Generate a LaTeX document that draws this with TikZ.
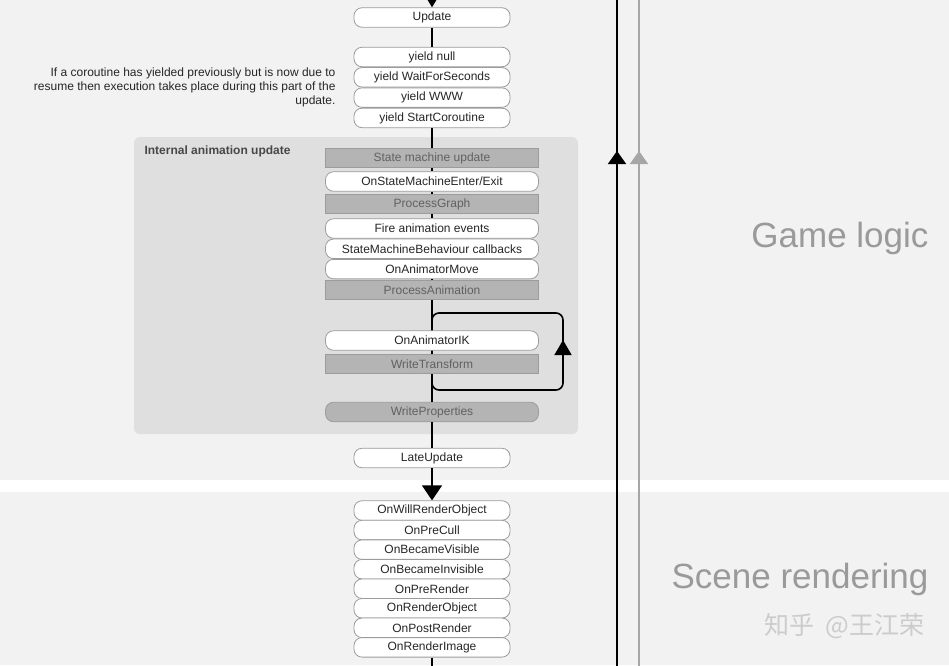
\documentclass[tikz,border=0pt]{standalone}
\usepackage{fontspec}
\setmainfont{Liberation Sans}
\newfontfamily\cjk{Noto Sans CJK SC}
\usetikzlibrary{arrows.meta, positioning}
\definecolor{bandgray}{HTML}{F2F2F2}
\definecolor{panelgray}{HTML}{DFDFDF}
\definecolor{stepgray}{HTML}{B4B4B4}
\definecolor{edgegray}{HTML}{9C9C9C}
\definecolor{labelgray}{HTML}{9A9A9A}
\definecolor{sidegray}{HTML}{A6A6A6}
\pgfdeclarelayer{bg}
\pgfsetlayers{bg,main}

\tikzset{
  cbox/.style={draw=edgegray, line width=0.8pt, fill=white, rounded corners=8pt,
    minimum width=156pt, minimum height=19.5pt, inner sep=0pt,
    font=\fontsize{12}{14}\selectfont, text=black!85},
  ibox/.style={cbox, minimum width=213pt},
  gbox/.style={ibox, rounded corners=0pt, fill=stepgray, text=black!62},
  flow/.style={line width=1.6pt},
}

\begin{document}
\begin{tikzpicture}[x=1pt, y=-1pt]
  \clip (0,0) rectangle (949,665);

  % boxes of the main flow
  \node[cbox] (upd) at (432,17.5) {Update};
  \node[cbox] (ynull) at (432,57) {yield null};
  \node[cbox, below=0pt of ynull] (ywait) {yield WaitForSeconds};
  \node[cbox, below=0pt of ywait] (ywww) {yield WWW};
  \node[cbox, below=0pt of ywww] (ystart) {yield StartCoroutine};

  \node[gbox] (smu) at (432,158) {State machine update};
  \node[ibox] (smee) at (432,181.5) {OnStateMachineEnter/Exit};
  \node[gbox] (pgraph) at (432,204) {ProcessGraph};
  \node[ibox] (fire) at (432,228.5) {Fire animation events};
  \node[ibox, below=0pt of fire] (smb) {StateMachineBehaviour callbacks};
  \node[ibox, below=0pt of smb] (amove) {OnAnimatorMove};
  \node[gbox] (panim) at (432,290) {ProcessAnimation};
  \node[ibox] (aik) at (432,340.5) {OnAnimatorIK};
  \node[gbox] (wtrans) at (432,364) {WriteTransform};
  \node[gbox, rounded corners=8pt] (wprop) at (432,412) {WriteProperties};
  \node[cbox] (late) at (432,458) {LateUpdate};

  \foreach \n/\t [count=\i from 0] in {wro/OnWillRenderObject, pcull/OnPreCull,
      bvis/OnBecameVisible, binv/OnBecameInvisible, prer/OnPreRender,
      robj/OnRenderObject, postr/OnPostRender, rimg/OnRenderImage}
    \node[cbox] (\n) at (432,{510.5+19.55*\i}) {\t};

  % texts
  \node[anchor=north west, font=\bfseries\fontsize{12}{14}\selectfont, text=black!72]
    (iau) at (141,142) {Internal animation update};
  \node[anchor=east, align=right, font=\fontsize{12}{14}\selectfont, text=black!85]
    (note) at (339,87) {If a coroutine has yielded previously but is now due to\\
      resume then execution takes place during this part of the\\update.};
  \node[anchor=east, text=labelgray, font=\fontsize{35}{40}\selectfont]
    (glogic) at (932,238) {Game logic};
  \node[anchor=east, text=labelgray, font=\fontsize{35}{40}\selectfont]
    (srender) at (932,579) {Scene rendering};
  \node[anchor=east, text=black!20, font=\cjk\fontsize{25}{28}\selectfont]
    (wmark) at (928,626) {知乎\hspace{6pt} @王江荣};

  \coordinate (topin) at (432,-20);
  \coordinate (botout) at (432,680);
  \coordinate (ktop) at (617,-5);
  \coordinate (kbot) at (617,670);
  \coordinate (karr) at (617,151);
  \coordinate (gtop) at (639,-5);
  \coordinate (gbot) at (639,670);
  \coordinate (garr) at (639,151);
  \coordinate (lpbl) at (432,390);
  \coordinate (lptr) at (563,313);
  \coordinate (lpmid) at (563,372);
  \coordinate (lparr) at (563,340);

  \begin{pgfonlayer}{bg}
    \fill[white] (0,0) rectangle (949,665);
    \fill[bandgray] (0,0) rectangle (949,480);
    \fill[bandgray] (0,492) rectangle (949,665);
    \fill[panelgray, rounded corners=6pt] (134,137) rectangle (578,434);
    % IK loop
    \draw[flow, rounded corners=7pt] (lpbl) rectangle (lptr);
    \draw[flow, -{Triangle[width=17pt,length=15pt]}] (lpmid) -- (lparr);
  \end{pgfonlayer}

  % connectors
  \draw[flow, -{Triangle[width=14pt,length=12pt]}] (topin) -- (upd);
  \foreach \a/\b in {upd/ynull, ystart/smu, smu/smee, smee/pgraph, pgraph/fire,
      amove/panim, panim/aik, aik/wtrans, wtrans/wprop, wprop/late}
    \draw[flow] (\a) -- (\b);
  \draw[flow, -{Triangle[width=20pt,length=15pt]}] (late) -- (wro);
  \draw[flow] (rimg) -- (botout);

  % side lines
  \draw[flow] (kbot) -- (ktop);
  \draw[flow, -{Triangle[width=18pt,length=13pt]}] (kbot) -- (karr);
  \draw[flow, sidegray] (gbot) -- (gtop);
  \draw[flow, sidegray, -{Triangle[width=18pt,length=13pt]}] (gbot) -- (garr);
\end{tikzpicture}
\end{document}
